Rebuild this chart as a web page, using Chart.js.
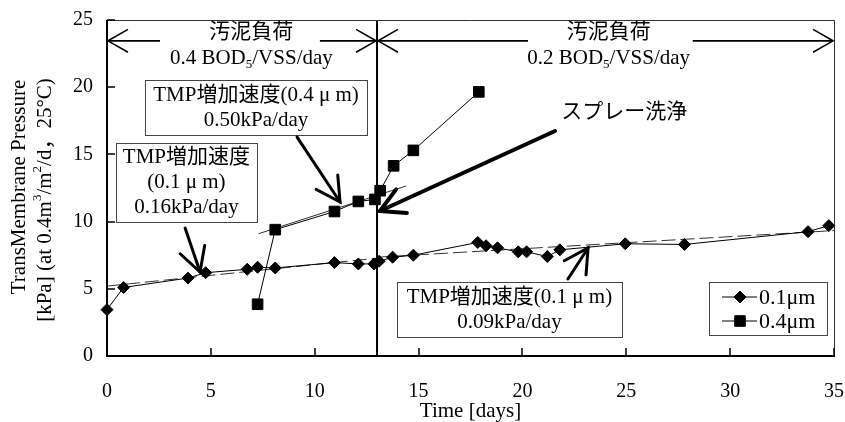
<!DOCTYPE html>
<html>
<head>
<meta charset="utf-8">
<script src="https://cdn.jsdelivr.net/npm/chart.js@4/dist/chart.umd.min.js"></script>
<style>
  html, body { margin: 0; padding: 0; background: #fff; }
  canvas { display: block; }
</style>
</head>
<body>
<canvas id="chart" width="845" height="422"></canvas>
<script>
// Measured TMP, 0.1 µm membrane
const days01 = [0, 0.8, 3.9, 4.75, 6.75, 7.25, 8.1, 10.95, 12.1, 12.85, 13.1, 13.75, 14.75, 17.85, 18.25, 18.8, 19.8, 20.2, 21.2, 21.8, 24.95, 27.8, 33.75, 34.75];
const tmp01  = [3.45, 5.1, 5.8, 6.2, 6.45, 6.6, 6.55, 6.95, 6.85, 6.85, 7.05, 7.35, 7.5, 8.45, 8.2, 8.05, 7.75, 7.75, 7.4, 7.9, 8.35, 8.3, 9.25, 9.7];

// Measured TMP, 0.4 µm membrane
const days04 = [7.25, 8.1, 10.95, 12.1, 12.9, 13.15, 13.8, 14.75, 17.9];
const tmp04  = [3.85, 9.4, 10.75, 11.5, 11.65, 12.3, 14.15, 15.3, 19.65];

// Fitted TMP increase rates [kPa/day] and the span each fit covers
const fit01a = { from: 0,   to: 13, start: 5.2,  rate: 0.16 };
const fit04  = { from: 7.3, to: 14.4, start: 9.1, rate: 0.50 };
const fit01b = { from: 13,  to: 35, start: 7.35, rate: 0.09 };

// Sludge loading change day
const switchDay = 13;

const xTicks = [0, 5, 10, 15, 20, 25, 30, 35];
const yTicks = [0, 5, 10, 15, 20, 25];

const FAM = '"Liberation Serif", "Noto Sans CJK JP", serif';

const pts = (xs, ys) => xs.map((x, i) => ({ x, y: ys[i] }));
const fitLine = f => [{ x: f.from, y: f.start }, { x: f.to, y: f.start + f.rate * (f.to - f.from) }];

// ---- text helpers -------------------------------------------------------
// parts: plain strings, {sub:'5'} or {sup:'3'}
function richWidth(ctx, parts, size) {
  let w = 0;
  for (const p of parts) {
    if (typeof p === 'string') { ctx.font = `${size}px ${FAM}`; w += ctx.measureText(p).width; }
    else { ctx.font = `${Math.round(size * 0.62)}px ${FAM}`; w += ctx.measureText(p.sub || p.sup).width; }
  }
  return w;
}
function drawRich(ctx, parts, x, y, size, align) {
  const w = richWidth(ctx, parts, size);
  let cx = align === 'left' ? x : align === 'right' ? x - w : x - w / 2;
  ctx.textAlign = 'left';
  ctx.textBaseline = 'middle';
  for (const p of parts) {
    if (typeof p === 'string') {
      ctx.font = `${size}px ${FAM}`;
      ctx.fillText(p, cx, y);
      cx += ctx.measureText(p).width;
    } else {
      const s = p.sub || p.sup;
      ctx.font = `${Math.round(size * 0.62)}px ${FAM}`;
      ctx.fillText(s, cx, y + (p.sub ? size * 0.28 : -size * 0.36));
      cx += ctx.measureText(s).width;
    }
  }
}
function arrowHead(ctx, tx, ty, fx, fy, len, ang) {
  const a = Math.atan2(fy - ty, fx - tx);
  ctx.beginPath();
  ctx.moveTo(tx + len * Math.cos(a + ang), ty + len * Math.sin(a + ang));
  ctx.lineTo(tx, ty);
  ctx.lineTo(tx + len * Math.cos(a - ang), ty + len * Math.sin(a - ang));
  ctx.stroke();
}

// ---- annotation layout (data units) -------------------------------------
const loadRanges = [
  { from: 0, to: switchDay, gap: [2.55, 10.25], cx: 6.95,
    lines: [['汚泥負荷'], ['0.4 BOD', { sub: '5' }, '/VSS/day']] },
  { from: switchDay, to: 35, gap: [20.27, 28.2], cx: 24.15,
    lines: [['汚泥負荷'], ['0.2 BOD', { sub: '5' }, '/VSS/day']] }
];
const rangeY = 23.45, rangeRows = [24.05, 22.1];

const rateBoxes = [
  { x0: 1.83, x1: 12.52, y0: 20.54, y1: 16.44, lines: ['TMP増加速度(0.4 μ m)', '0.50kPa/day'] },
  { x0: 0.43, x1: 7.22,  y0: 15.85, y1: 9.97,  lines: ['TMP増加速度', '(0.1 μ m)', '0.16kPa/day'] },
  { x0: 13.96, x1: 24.79, y0: 5.51, y1: 1.41,  lines: ['TMP増加速度(0.1 μ m)', '0.09kPa/day'] }
];
const callouts = [
  { from: [9.15, 16.29], to: [11.22, 11.46], w: 3 },
  { from: [3.76, 9.52],  to: [4.48, 6.25],  w: 3 },
  { from: [22.19, 5.73], to: [23.16, 8.04], w: 3 },
  { from: [21.57, 16.74], to: [13.14, 10.79], w: 4 }
];
const sprayLabel = { x: 24.9, y: 18.1, text: 'スプレー洗浄' };

const decorations = {
  id: 'decorations',
  afterDatasetsDraw(chart) {
    const { ctx, chartArea: a, scales: { x, y } } = chart;
    const X = v => x.getPixelForValue(v), Y = v => y.getPixelForValue(v);
    ctx.save();
    ctx.fillStyle = '#000';
    ctx.strokeStyle = '#000';

    // frame: heavy left/bottom axes, light top/right border
    ctx.lineWidth = 1;
    ctx.strokeStyle = '#333';
    ctx.beginPath();
    ctx.moveTo(a.left, a.top + 0.5); ctx.lineTo(a.right + 0.5, a.top + 0.5); ctx.lineTo(a.right + 0.5, a.bottom);
    ctx.stroke();
    ctx.strokeStyle = '#000';
    ctx.lineWidth = 2;
    ctx.beginPath();
    ctx.moveTo(a.left, a.top); ctx.lineTo(a.left, a.bottom); ctx.lineTo(a.right + 1, a.bottom);
    ctx.stroke();

    // inward tick marks
    ctx.lineWidth = 1.5;
    ctx.beginPath();
    xTicks.slice(1).forEach(v => { const p = Math.round(X(v)); ctx.moveTo(p, a.bottom); ctx.lineTo(p, a.bottom - 8); });
    yTicks.slice(1).forEach(v => { const p = Math.round(Y(v)); ctx.moveTo(a.left, p); ctx.lineTo(a.left + 8, p); });
    ctx.stroke();

    // sludge loading ranges
    ctx.lineWidth = 1.6;
    const ry = Y(rangeY);
    loadRanges.forEach(r => {
      const l = X(r.from) + 1, rr = X(r.to) - 1;
      ctx.beginPath();
      ctx.moveTo(l, ry); ctx.lineTo(X(r.gap[0]), ry);
      ctx.moveTo(X(r.gap[1]), ry); ctx.lineTo(rr, ry);
      ctx.stroke();
      arrowHead(ctx, l, ry, rr, ry, 23, 0.52);
      arrowHead(ctx, rr, ry, l, ry, 23, 0.52);
      r.lines.forEach((ln, i) => drawRich(ctx, ln, X(r.cx), Y(rangeRows[i]), 21, 'center'));
    });

    // rate boxes
    rateBoxes.forEach(b => {
      const bx = X(b.x0), by = Y(b.y0), bw = X(b.x1) - bx, bh = Y(b.y1) - by;
      ctx.fillStyle = '#fff';
      ctx.fillRect(bx, by, bw, bh);
      ctx.strokeStyle = '#444';
      ctx.lineWidth = 1;
      ctx.strokeRect(Math.round(bx) + 0.5, Math.round(by) + 0.5, Math.round(bw), Math.round(bh));
      ctx.fillStyle = '#000';
      const lh = 25, cy = by + bh / 2, n = b.lines.length;
      b.lines.forEach((t, i) => drawRich(ctx, [t], bx + bw / 2, cy + (i - (n - 1) / 2) * lh, 21, 'center'));
    });

    // callout arrows
    ctx.strokeStyle = '#000';
    ctx.lineCap = 'round';
    callouts.forEach(c => {
      const fx = X(c.from[0]), fy = Y(c.from[1]), tx = X(c.to[0]), ty = Y(c.to[1]);
      ctx.lineWidth = c.w;
      ctx.beginPath(); ctx.moveTo(fx, fy); ctx.lineTo(tx, ty); ctx.stroke();
      arrowHead(ctx, tx, ty, fx, fy, 27, 0.5);
    });
    ctx.lineCap = 'butt';
    drawRich(ctx, [sprayLabel.text], X(sprayLabel.x), Y(sprayLabel.y), 21, 'center');

    // legend
    const lg = { x0: a.right - 125, y0: a.bottom - 74, w: 118, h: 53 };
    ctx.strokeStyle = '#444'; ctx.lineWidth = 1;
    ctx.strokeRect(Math.round(lg.x0) + 0.5, Math.round(lg.y0) + 0.5, lg.w, lg.h);
    [0, 1].forEach(i => {
      const ds = chart.data.datasets[i];
      const ly = lg.y0 + 15 + i * 24;
      ctx.strokeStyle = '#000'; ctx.lineWidth = 1;
      ctx.beginPath(); ctx.moveTo(lg.x0 + 13, ly); ctx.lineTo(lg.x0 + 48, ly); ctx.stroke();
      ctx.fillStyle = '#000';
      Chart.helpers.drawPoint(ctx, { pointStyle: ds.pointStyle, radius: ds.pointRadius, borderWidth: 1, rotation: 0 }, lg.x0 + 31, ly);
      drawRich(ctx, [ds.label], lg.x0 + 50, ly + 1, 22, 'left');
    });

    // axis titles
    ctx.fillStyle = '#000';
    drawRich(ctx, ['Time [days]'], (a.left + a.right) / 2, 411, 21, 'center');
    ctx.save();
    ctx.translate(19, 187);
    ctx.rotate(-Math.PI / 2);
    drawRich(ctx, ['TransMembrane Pressure'], 0, 0, 21, 'center');
    ctx.restore();
    ctx.save();
    ctx.translate(45, 200);
    ctx.rotate(-Math.PI / 2);
    drawRich(ctx, ['[kPa] (at 0.4m', { sup: '3' }, '/m', { sup: '2' }, '/d，25°C)'], 0, 0, 21, 'center');
    ctx.restore();

    ctx.restore();
  }
};

const tickFont = { family: FAM, size: 20 };

new Chart(document.getElementById('chart'), {
  type: 'scatter',
  data: {
    datasets: [
      { label: '0.1μm', data: pts(days01, tmp01), showLine: true, borderColor: '#000', borderWidth: 1,
        pointStyle: 'rectRot', pointRadius: 6, backgroundColor: '#000', pointBorderColor: '#000', clip: false },
      { label: '0.4μm', data: pts(days04, tmp04), showLine: true, borderColor: '#000', borderWidth: 1,
        pointStyle: 'rect', pointRadius: 7.5, backgroundColor: '#000', pointBorderColor: '#000', clip: false },
      { label: 'fit 0.1 (1)', data: fitLine(fit01a), showLine: true, borderColor: '#333', borderWidth: 1,
        borderDash: [14, 5], pointRadius: 0 },
      { label: 'fit 0.4', data: fitLine(fit04), showLine: true, borderColor: '#333', borderWidth: 1,
        pointRadius: 0 },
      { label: 'fit 0.1 (2)', data: fitLine(fit01b), showLine: true, borderColor: '#333', borderWidth: 1,
        borderDash: [14, 5], pointRadius: 0 },
      { label: 'switch', data: [{ x: switchDay, y: 0 }, { x: switchDay, y: 25 }], showLine: true,
        borderColor: '#000', borderWidth: 2, pointRadius: 0 }
    ]
  },
  options: {
    responsive: false,
    animation: false,
    devicePixelRatio: 1,
    layout: { padding: { top: 20, right: 11, left: 0, bottom: 0 } },
    plugins: { legend: { display: false }, tooltip: { enabled: false } },
    scales: {
      x: {
        type: 'linear', min: 0, max: 35,
        afterBuildTicks: s => { s.ticks = xTicks.map(v => ({ value: v })); },
        afterFit: s => { s.height = 66; s.paddingLeft = 0; s.paddingRight = 0; },
        ticks: { font: tickFont, color: '#000', padding: 24, maxRotation: 0 },
        grid: { display: false, drawTicks: false },
        border: { display: false }
      },
      y: {
        type: 'linear', min: 0, max: 25,
        afterBuildTicks: s => { s.ticks = yTicks.map(v => ({ value: v })); },
        afterFit: s => { s.width = 107; s.paddingTop = 0; s.paddingBottom = 0; },
        ticks: { font: tickFont, color: '#000', padding: 14 },
        grid: { display: false, drawTicks: false },
        border: { display: false }
      }
    }
  },
  plugins: [decorations]
});
</script>
</body>
</html>
